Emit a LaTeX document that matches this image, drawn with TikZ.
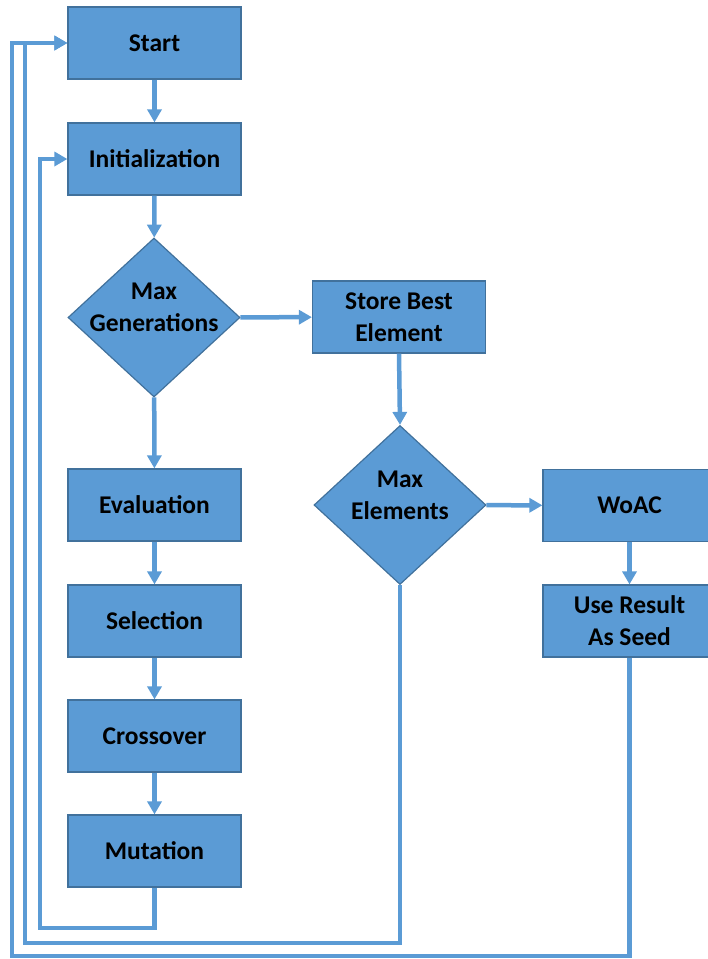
\documentclass[tikz,border=0pt]{standalone}
\usepackage{fontspec}
\setmainfont{Carlito}
\usepackage{tikz}
\usetikzlibrary{arrows.meta,shapes.geometric,positioning}
\definecolor{boxblue}{HTML}{5B9BD5}
\definecolor{edgeblue}{HTML}{41719C}

\begin{document}
\begin{tikzpicture}[x=1pt,y=1pt,>={Triangle[length=13pt,width=14pt]},
  font=\fontsize{25.5}{32}\selectfont\bfseries]
  \tikzstyle{step box}=[rectangle,draw=edgeblue,line width=1.2pt,fill=boxblue,
  			minimum width=173pt,minimum height=72pt,align=center,inner sep=0pt]
  \tikzstyle{test}=[diamond,draw=edgeblue,line width=1.2pt,fill=boxblue,
  			minimum width=172pt,minimum height=159pt,align=center,
  			aspect=1.08,inner sep=-16pt,text depth=20pt]
  \tikzstyle{flow}=[draw=boxblue,line width=4.5pt]
  \useasboundingbox (0,0) rectangle (708,-959);
  \clip (0,0) rectangle (708,-959);
  % main column
  \node [step box] (start) at (154.5,-43) {Start};
  \node [step box] (init) at (154.5,-159) {Initialization};
  \node [test] (maxgen) at (154,-317.5) {Max\\Generations};
  \node [step box] (eval) at (154.5,-505) {Evaluation};
  \node [step box] (sel) at (154.5,-621) {Selection};
  \node [step box] (cross) at (154.5,-736) {Crossover};
  \node [step box] (mut) at (154.5,-851) {Mutation};
  % middle and right
  \node [step box] (store) at (399,-317) {Store Best\\Element};
  \node [test] (maxelem) at (400,-505) {Max\\Elements};
  \node [step box] (woac) at (629.5,-505.5) {WoAC};
  \node [step box] (seed) at (629.5,-621) {Use Result\\As Seed};
  \coordinate (loop1) at (40,-928);
  \coordinate (loop2) at (25,-943);
  \coordinate (loop3) at (12,-956);

  \draw [flow,->] (start) -- (init);
  \draw [flow,->] (init) -- (maxgen);
  \draw [flow,->] (maxgen) -- (store);
  \draw [flow,->] (maxgen) -- (eval);
  \draw [flow,->] (eval) -- (sel);
  \draw [flow,->] (sel) -- (cross);
  \draw [flow,->] (cross) -- (mut);
  \draw [flow,->] (store.south) -- (maxelem.north);
  \draw [flow,->] (maxelem) -- (woac);
  \draw [flow,->] (woac) -- (seed);
  % loops back
  \draw [flow,->] (mut.south) |- (loop1) |- (init.west);
  \draw [flow,->] (maxelem.south) |- (loop2) |- (start.west);
  \draw [flow,->] (seed.south) |- (loop3) |- (start.west);
\end{tikzpicture}
\end{document}
